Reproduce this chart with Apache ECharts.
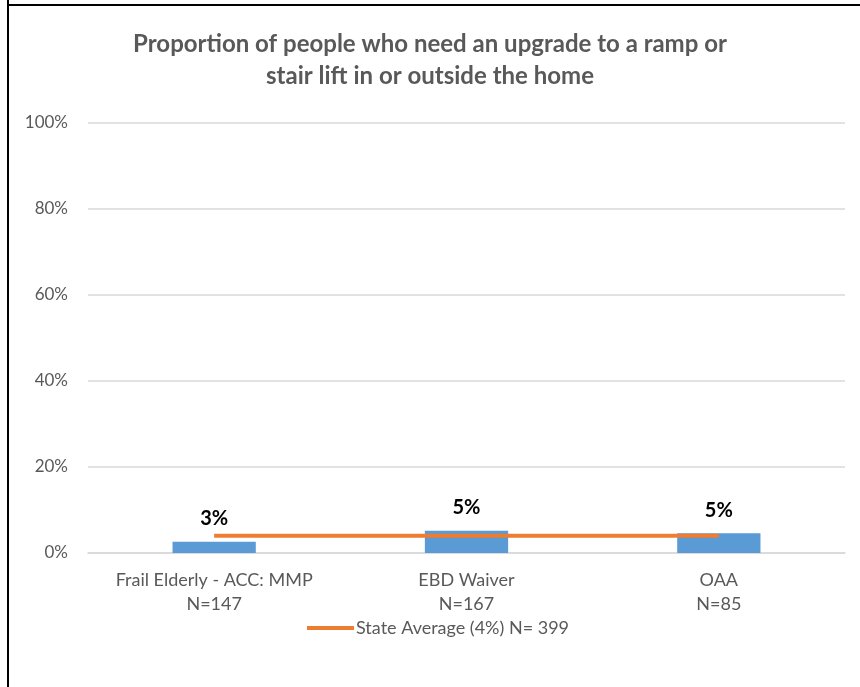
<!DOCTYPE html>
<html>
<head>
<meta charset="utf-8">
<script src="https://cdn.jsdelivr.net/npm/echarts@6/dist/echarts.min.js"></script>
<style>
  html, body { margin: 0; padding: 0; background: #fff; }
  #chart { width: 860px; height: 687px; }
</style>
</head>
<body>
<div id="chart"></div>
<script>
var categories = ['Frail Elderly - ACC: MMP\nN=147', 'EBD Waiver\nN=167', 'OAA\nN=85'];
var groupValues = [2.6, 5.2, 4.6];
var stateAverage = [4, 4, 4];
var stateName = 'State Average (4%) N= 399';
var titleText = 'Proportion of people who need an upgrade to a ramp or\nstair lift in or outside the home';

var font = 'Lato, "Open Sans", sans-serif';
var myChart = echarts.init(document.getElementById('chart'));

var option = {
    backgroundColor: '#fff',
    animation: false,
    title: {
        text: titleText,
        left: 'center',
        top: 23,
        textStyle: {
            color: '#595959',
            fontFamily: font,
            fontSize: 24,
            fontWeight: 'bold',
            lineHeight: 32
        }
    },
    graphic: [
        { type: 'line', shape: { x1: 8, y1: 0, x2: 8, y2: 687 }, style: { stroke: '#000', lineWidth: 2 } },
        { type: 'line', shape: { x1: 7, y1: 5, x2: 860, y2: 5 }, style: { stroke: '#000', lineWidth: 2 } }
    ],
    legend: {
        left: 302,
        top: 614,
        itemWidth: 47,
        itemHeight: 4,
        data: [{ name: stateName, icon: 'rect' }],
        textStyle: { color: '#595959', fontFamily: font, fontSize: 18, padding: [0, 0, 0, -3] }
    },
    grid: { left: 88, right: 15, top: 123, bottom: 134 },
    xAxis: {
        type: 'category',
        data: categories,
        axisTick: { show: false },
        axisLine: { lineStyle: { color: '#D9D9D9', width: 1.5 } },
        axisLabel: {
            interval: 0,
            color: '#595959',
            fontFamily: font,
            fontSize: 18,
            lineHeight: 24,
            margin: 15
        }
    },
    yAxis: {
        type: 'value',
        min: 0,
        max: 100,
        interval: 20,
        axisLine: { show: false },
        axisTick: { show: false },
        splitLine: { lineStyle: { color: '#D9D9D9', width: 1.5 } },
        axisLabel: {
            formatter: '{value}%',
            color: '#595959',
            fontFamily: font,
            fontSize: 17,
            margin: 20
        }
    },
    series: [
        {
            name: 'Group',
            type: 'bar',
            data: groupValues,
            barWidth: '33%',
            itemStyle: { color: '#5B9BD5' },
            label: {
                show: true,
                position: 'top',
                distance: 13,
                formatter: function (p) { return Math.round(p.value) + '%'; },
                color: '#000',
                fontFamily: font,
                fontSize: 20,
                fontWeight: 'bold'
            }
        },
        {
            name: stateName,
            type: 'line',
            data: stateAverage,
            symbol: 'none',
            lineStyle: { color: '#ED7D31', width: 4 },
            itemStyle: { color: '#ED7D31' }
        }
    ]
};

myChart.setOption(option);
</script>
</body>
</html>
